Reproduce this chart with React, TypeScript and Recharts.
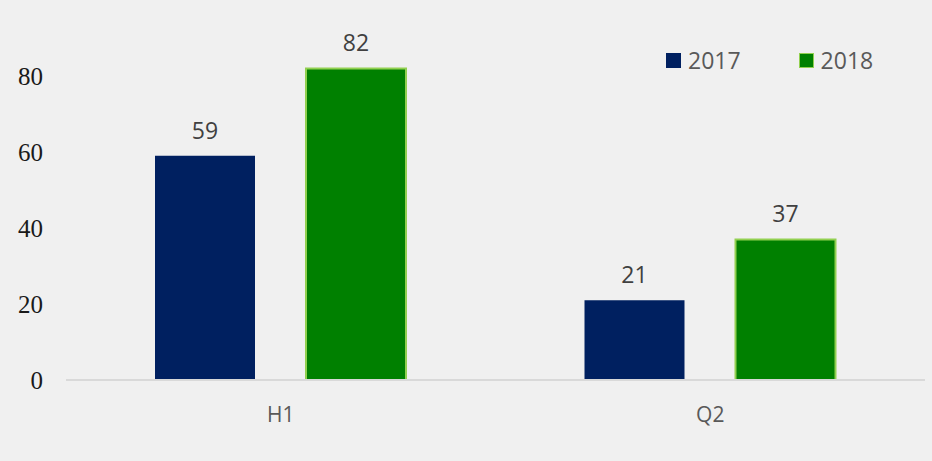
import { Bar, BarChart, LabelList, XAxis, YAxis } from "recharts";

const categories = ["H1", "Q2"];
const values2017 = [59, 21];
const values2018 = [82, 37];
const yTicks = [0, 20, 40, 60, 80];

const data = categories.map((c, i) => ({
  name: c,
  y2017: values2017[i],
  y2018: values2018[i],
}));

const NAVY = "#002060";
const GREEN = "#008000";
const GREEN_EDGE = "#92d050";
const SANS = "'Open Sans', 'Liberation Sans', sans-serif";

// legenda rysowana obok wykresu, żeby nie zjadała miejsca na plot
function LegendBox() {
  const items = [
    { label: "2017", fill: NAVY, stroke: NAVY },
    { label: "2018", fill: GREEN, stroke: GREEN_EDGE },
  ];
  return (
    <div
      style={{
        position: "absolute",
        left: 666,
        top: 45,
        display: "flex",
        alignItems: "center",
        fontFamily: SANS,
        fontSize: 23,
        lineHeight: "30px",
        color: "#595959",
      }}
    >
      {items.map((it, i) => (
        <div key={it.label} style={{ display: "flex", alignItems: "center", marginRight: i === 0 ? 58 : 0 }}>
          <span
            style={{
              display: "inline-block",
              width: 13,
              height: 13,
              background: it.fill,
              border: `1.5px solid ${it.stroke}`,
              marginRight: 7,
            }}
          />
          <span>{it.label}</span>
        </div>
      ))}
    </div>
  );
}

export default function App() {
  return (
    <div style={{ position: "absolute", left: 0, top: 0, width: 932, height: 461, background: "#f0f0f0" }}>
      <BarChart
        width={932}
        height={461}
        data={data}
        margin={{ top: 38, right: 7, bottom: 21, left: 0 }}
        barSize={100}
        barGap={51}
      >
        <XAxis
          dataKey="name"
          height={60}
          axisLine={{ stroke: "#d9d9d9", strokeWidth: 2 }}
          tickLine={false}
          tickSize={0}
          tickMargin={27}
          tick={{ fontSize: 21, fontFamily: SANS, fill: "#595959" }}
        />
        <YAxis
          width={66}
          domain={[0, 90]}
          ticks={yTicks}
          axisLine={false}
          tickLine={false}
          tickSize={0}
          tickMargin={23}
          tick={{ fontSize: 25, fontFamily: "'Liberation Serif', 'DejaVu Serif', serif", fill: "#1a1a1a" }}
        />
        <Bar dataKey="y2017" name="2017" fill={NAVY} isAnimationActive={false}>
          <LabelList
            dataKey="y2017"
            position="top"
            offset={17}
            style={{ fontSize: 23, fontFamily: SANS, fill: "#404040" }}
          />
        </Bar>
        <Bar
          dataKey="y2018"
          name="2018"
          fill={GREEN}
          stroke={GREEN_EDGE}
          strokeWidth={2}
          isAnimationActive={false}
        >
          <LabelList
            dataKey="y2018"
            position="top"
            offset={17}
            style={{ fontSize: 23, fontFamily: SANS, fill: "#404040" }}
          />
        </Bar>
      </BarChart>
      <LegendBox />
    </div>
  );
}
